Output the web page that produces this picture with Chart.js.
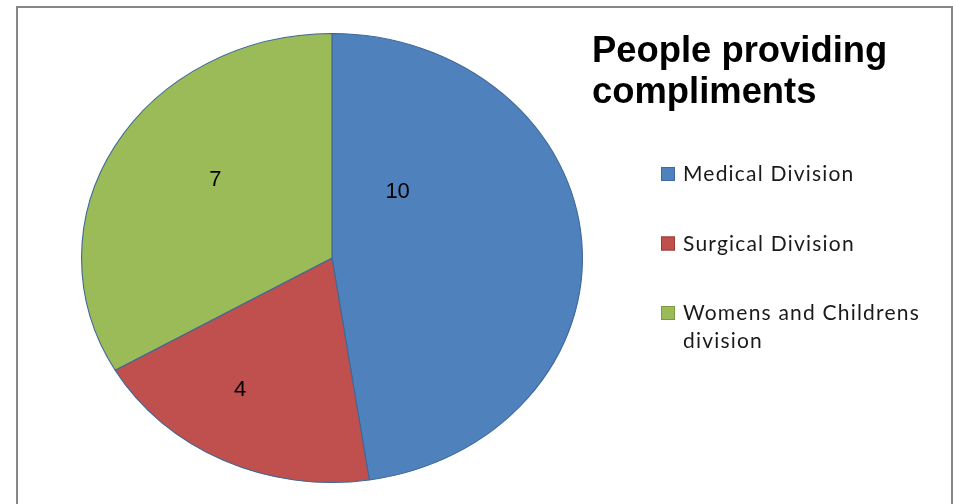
<!DOCTYPE html>
<html>
<head>
<meta charset="utf-8">
<script src="https://cdn.jsdelivr.net/npm/chart.js@4"></script>
<style>
  body { margin: 0; background: #fff; }
  #frame { position: absolute; left: 16px; top: 6px; width: 933px; height: 600px;
           border: 2px solid #878787; border-bottom: none; }
  #pie { position: absolute; left: 0; top: 0; }
</style>
</head>
<body>
<div id="frame"></div>
<canvas id="pie" width="953" height="504"></canvas>
<script>
var divisions = ['Medical Division', 'Surgical Division', 'Womens and Childrens division'];
var compliments = [10, 4, 7];
var sliceColors = ['#4f81bd', '#c0504d', '#9bbb59'];
var swatchBorders = ['#3d6a9e', '#9a3b38', '#7a9a40'];
var chartTitle = ['People providing', 'compliments'];

// pie is drawn as an ellipse: stretch horizontally around the centre
var stretchX = 251 / 225;

var ellipsePie = {
    id: 'ellipsePie',
    beforeDatasetsDraw: function(chart) {
        var arc = chart.getDatasetMeta(0).data[0];
        var ctx = chart.ctx;
        ctx.save();
        ctx.translate(arc.x, 0);
        ctx.scale(stretchX, 1);
        ctx.translate(-arc.x, 0);
    },
    afterDatasetsDraw: function(chart) {
        chart.ctx.restore();
    }
};

// value labels inside slices, placed relative to the pie centre/radius
var sliceLabels = {
    id: 'sliceLabels',
    afterDatasetsDraw: function(chart, args, opts) {
        var ctx = chart.ctx;
        var values = chart.data.datasets[0].data;
        chart.getDatasetMeta(0).data.forEach(function(arc, i) {
            var a = opts.anchors[i];
            var x = arc.x + a[0] * arc.outerRadius * stretchX;
            var y = arc.y + a[1] * arc.outerRadius;
            ctx.save();
            ctx.font = '22px "Liberation Sans", Arial, sans-serif';
            ctx.fillStyle = '#000';
            ctx.textAlign = 'center';
            ctx.textBaseline = 'middle';
            ctx.fillText(String(values[i]), x, y);
            ctx.restore();
        });
    }
};

// title and legend drawn on the right side
var sideText = {
    id: 'sideText',
    afterDraw: function(chart, args, opts) {
        var ctx = chart.ctx;
        ctx.save();
        ctx.fillStyle = '#000';
        ctx.font = 'bold 36.4px "Liberation Sans", Arial, sans-serif';
        ctx.textBaseline = 'alphabetic';
        chartTitle.forEach(function(line, i) {
            ctx.fillText(line, opts.titleX, opts.titleY + i * 41);
        });

        ctx.font = '21px Lato, "Open Sans", sans-serif';
        ctx.letterSpacing = '1.2px';
        var ds = chart.data.datasets[0];
        chart.data.labels.forEach(function(label, i) {
            var base = opts.legendY + i * opts.legendStep;
            // wrap long labels
            var words = label.split(' '), lines = [], cur = '';
            words.forEach(function(w) {
                var test = cur ? cur + ' ' + w : w;
                if (ctx.measureText(test).width > opts.wrapWidth && cur) {
                    lines.push(cur); cur = w;
                } else cur = test;
            });
            lines.push(cur);
            ctx.fillStyle = ds.backgroundColor[i];
            ctx.fillRect(opts.legendX, base - 14, 14, 14);
            ctx.strokeStyle = swatchBorders[i];
            ctx.lineWidth = 1;
            ctx.strokeRect(opts.legendX + 0.5, base - 13.5, 13, 13);
            ctx.fillStyle = '#1a1a1a';
            lines.forEach(function(l, j) {
                ctx.fillText(l, opts.legendX + 22, base + j * 28);
            });
        });
        ctx.restore();
    }
};

new Chart(document.getElementById('pie'), {
    type: 'pie',
    data: {
        labels: divisions,
        datasets: [{
            data: compliments,
            backgroundColor: sliceColors,
            borderColor: '#3f6897',
            borderWidth: 1
        }]
    },
    options: {
        responsive: false,
        animation: false,
        layout: { padding: { left: 107, right: 396, top: 33, bottom: 21 } },
        plugins: {
            legend: { display: false },
            tooltip: { enabled: false },
            sliceLabels: {
                anchors: [[0.262, -0.293], [-0.367, 0.587], [-0.466, -0.347]]
            },
            sideText: {
                titleX: 592, titleY: 62,
                legendX: 661, legendY: 181, legendStep: 69.5, wrapWidth: 255
            }
        }
    },
    plugins: [ellipsePie, sliceLabels, sideText]
});
</script>
</body>
</html>
